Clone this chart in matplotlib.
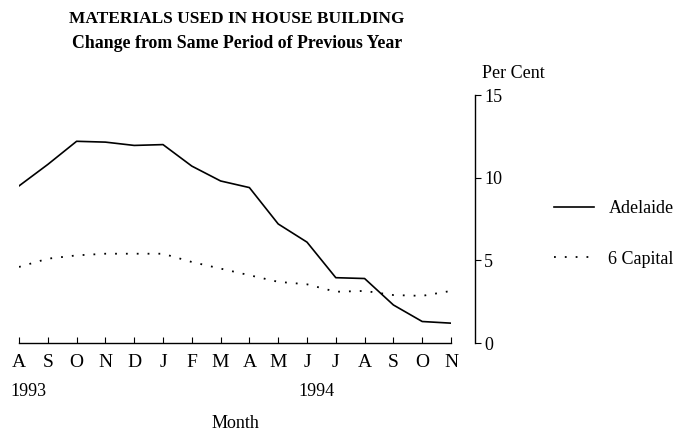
import matplotlib
matplotlib.use("Agg")
import matplotlib.pyplot as plt

months = ["A", "S", "O", "N", "D", "J", "F", "M", "A", "M", "J", "J", "A", "S", "O", "N"]
adelaide = [9.5, 10.8, 12.2, 12.15, 11.95, 12.0, 10.7, 9.8, 9.4, 7.2, 6.1, 3.95, 3.9, 2.3, 1.3, 1.2]
six_capital = [4.6, 5.1, 5.3, 5.4, 5.4, 5.4, 4.9, 4.5, 4.1, 3.7, 3.55, 3.1, 3.15, 2.9, 2.85, 3.15]
year_labels = {0: "1993", 10: "1994"}
y_ticks = [0, 5, 10, 15]

plt.rcParams['font.family'] = ['Liberation Serif', 'DejaVu Serif']

fig = plt.figure(figsize=(6.91, 4.34), dpi=100)
ax = fig.add_axes([19 / 691, 1 - 343 / 434, 432 / 691, 248 / 434])

x = list(range(len(months)))
ax.plot(x, adelaide, color='black', lw=1.2, label='Adelaide')
ax.plot(x, six_capital, color='black', lw=1.3, linestyle=(0, (1, 5)), label='6 Capital')

ax.set_xlim(0, len(months) - 1)
ax.set_ylim(0, 15)

ax.spines['top'].set_visible(False)
ax.spines['left'].set_visible(False)
ax.spines['right'].set_position(('outward', 17))
ax.spines['bottom'].set_linewidth(1.0)
ax.spines['right'].set_linewidth(1.0)

ax.set_xticks(x)
ax.set_xticklabels(months, fontsize=14)
ax.tick_params(axis='x', direction='in', length=4, pad=8)

ax.yaxis.tick_right()
ax.set_yticks(y_ticks)
ax.set_yticklabels([str(v) for v in y_ticks], fontsize=13)
ax.tick_params(axis='y', direction='out', length=4, pad=3)

for i, yr in year_labels.items():
    ax.annotate(yr, xy=(i, 0), xycoords=('data', 'axes fraction'),
                xytext=(-9, -48), textcoords='offset pixels',
                ha='left', va='center', fontsize=13)

fig.text(235 / 691, 1 - 423 / 434, "Month", ha='center', va='center', fontsize=13)
fig.text(513 / 691, 1 - 74 / 434, "Per Cent", ha='center', va='center', fontsize=13)

fig.text(237 / 691, 1 - 19 / 434, "MATERIALS USED IN HOUSE BUILDING",
         ha='center', va='center', fontsize=12.5, fontweight='bold')
fig.text(237 / 691, 1 - 43 / 434, "Change from Same Period of Previous Year",
         ha='center', va='center', fontsize=12.8, fontweight='bold')

ax.legend(loc='center left', bbox_to_anchor=(538 / 691, 1 - 234 / 434),
          bbox_transform=fig.transFigure, frameon=False, fontsize=13,
          handlelength=2.2, handletextpad=0.8, labelspacing=1.85)

fig.savefig("out.png", dpi=100)
